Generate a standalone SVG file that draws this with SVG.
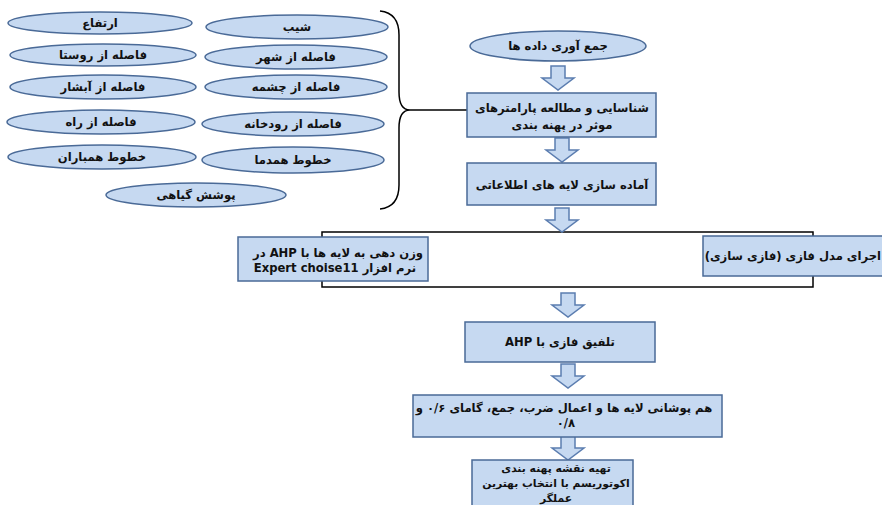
<svg xmlns="http://www.w3.org/2000/svg" width="882" height="505" viewBox="0 0 882 505">
<style>
.n{fill:#c6d9f1;stroke:#4a6a97;stroke-width:1.5}
.t{font-family:"DejaVu Sans","Noto Sans",sans-serif;font-weight:bold;font-size:11.6px;fill:#111;text-anchor:middle;direction:rtl}
.ln{fill:none;stroke:#000;stroke-width:1.5}
.ar{fill:#c6d9f1;stroke:#5b7db0;stroke-width:1.5}
</style>
<defs>
<path id="arr" d="M-7,0 H7 V12 H16 L0,24 L-16,12 H-7 Z"/>
</defs>
<rect width="882" height="505" fill="#fff"/>
<g id="connectors">
<path class="ln" d="M380,11 Q399,13 399,35 V92 Q399,110 410,110 Q399,110 399,128 V185 Q399,207 380,209"/>
<line class="ln" x1="410" y1="110" x2="467" y2="110"/>
<rect x="322" y="232" width="491" height="55" fill="#fff" stroke="#000" stroke-width="1.5"/>
<use href="#arr" class="ar" x="558" y="66"/>
<use href="#arr" class="ar" x="562" y="138"/>
<use href="#arr" class="ar" x="562" y="208"/>
<use href="#arr" class="ar" x="568" y="293"/>
<use href="#arr" class="ar" x="568" y="364"/>
<use href="#arr" class="ar" x="568" y="436"/>
</g>
<g id="e1"><ellipse class="n" cx="100" cy="23" rx="92" ry="11"/><text class="t" x="100" y="27">ارتفاع</text></g>
<g id="e2"><ellipse class="n" cx="103" cy="55" rx="93" ry="11"/><text class="t" x="103" y="59">فاصله از روستا</text></g>
<g id="e3"><ellipse class="n" cx="103" cy="87" rx="93" ry="12"/><text class="t" x="103" y="91">فاصله از آبشار</text></g>
<g id="e4"><ellipse class="n" cx="101" cy="122" rx="94" ry="12"/><text class="t" x="101" y="126">فاصله از راه</text></g>
<g id="e5"><ellipse class="n" cx="102" cy="157" rx="94" ry="12"/><text class="t" x="102" y="161">خطوط همباران</text></g>
<g id="e6"><ellipse class="n" cx="196" cy="195" rx="90" ry="12"/><text class="t" x="196" y="199">پوشش گیاهی</text></g>
<g id="e7"><ellipse class="n" cx="297" cy="27" rx="91" ry="12"/><text class="t" x="297" y="31">شیب</text></g>
<g id="e8"><ellipse class="n" cx="296" cy="57" rx="91" ry="12"/><text class="t" x="296" y="61">فاصله از شهر</text></g>
<g id="e9"><ellipse class="n" cx="296" cy="87" rx="91" ry="12"/><text class="t" x="296" y="91">فاصله از چشمه</text></g>
<g id="e10"><ellipse class="n" cx="293" cy="124" rx="91" ry="12"/><text class="t" x="293" y="128">فاصله از رودخانه</text></g>
<g id="e11"><ellipse class="n" cx="293" cy="160" rx="91" ry="13"/><text class="t" x="293" y="164">خطوط همدما</text></g>
<g id="start"><ellipse class="n" cx="558" cy="46" rx="88" ry="15"/><text class="t" x="558" y="50">جمع آوری داده ها</text></g>
<g id="b1"><rect class="n" x="467" y="93" width="189" height="44"/><text class="t" x="562" y="112">شناسایی و مطالعه پارامترهای</text><text class="t" x="562" y="129">موثر در پهنه بندی</text></g>
<g id="b2"><rect class="n" x="467" y="163" width="189" height="42"/><text class="t" x="562" y="189">آماده سازی لایه های اطلاعاتی</text></g>
<g id="b3"><rect class="n" x="238" y="237" width="190" height="44"/><text class="t" x="338" y="257">وزن دهی به لایه ها با AHP در</text><text class="t" x="335" y="272">نرم افزار Expert choise11</text></g>
<g id="b4"><rect class="n" x="703" y="236" width="190" height="40"/><text class="t" x="881" y="260" style="text-anchor:start">اجرای مدل فازی (فازی سازی)</text></g>
<g id="b5"><rect class="n" x="465" y="322" width="190" height="40"/><text class="t" x="560" y="346">تلفیق فازی با AHP</text></g>
<g id="b6"><rect class="n" x="413" y="395" width="309" height="42"/><text class="t" x="564" y="412">هم پوشانی لایه ها و اعمال ضرب، جمع، گامای ۰/۶ و</text><text class="t" x="566" y="427">۰/۸</text></g>
<g id="b7"><rect class="n" x="472" y="460" width="161" height="60"/><text class="t" x="556" y="472" style="font-size:10.8px">تهیه نقشه پهنه بندی</text><text class="t" x="556" y="487" style="font-size:10.8px">اکوتوریسم با انتخاب بهترین</text><text class="t" x="556" y="502" style="font-size:10.8px">عملگر</text></g>
</svg>
